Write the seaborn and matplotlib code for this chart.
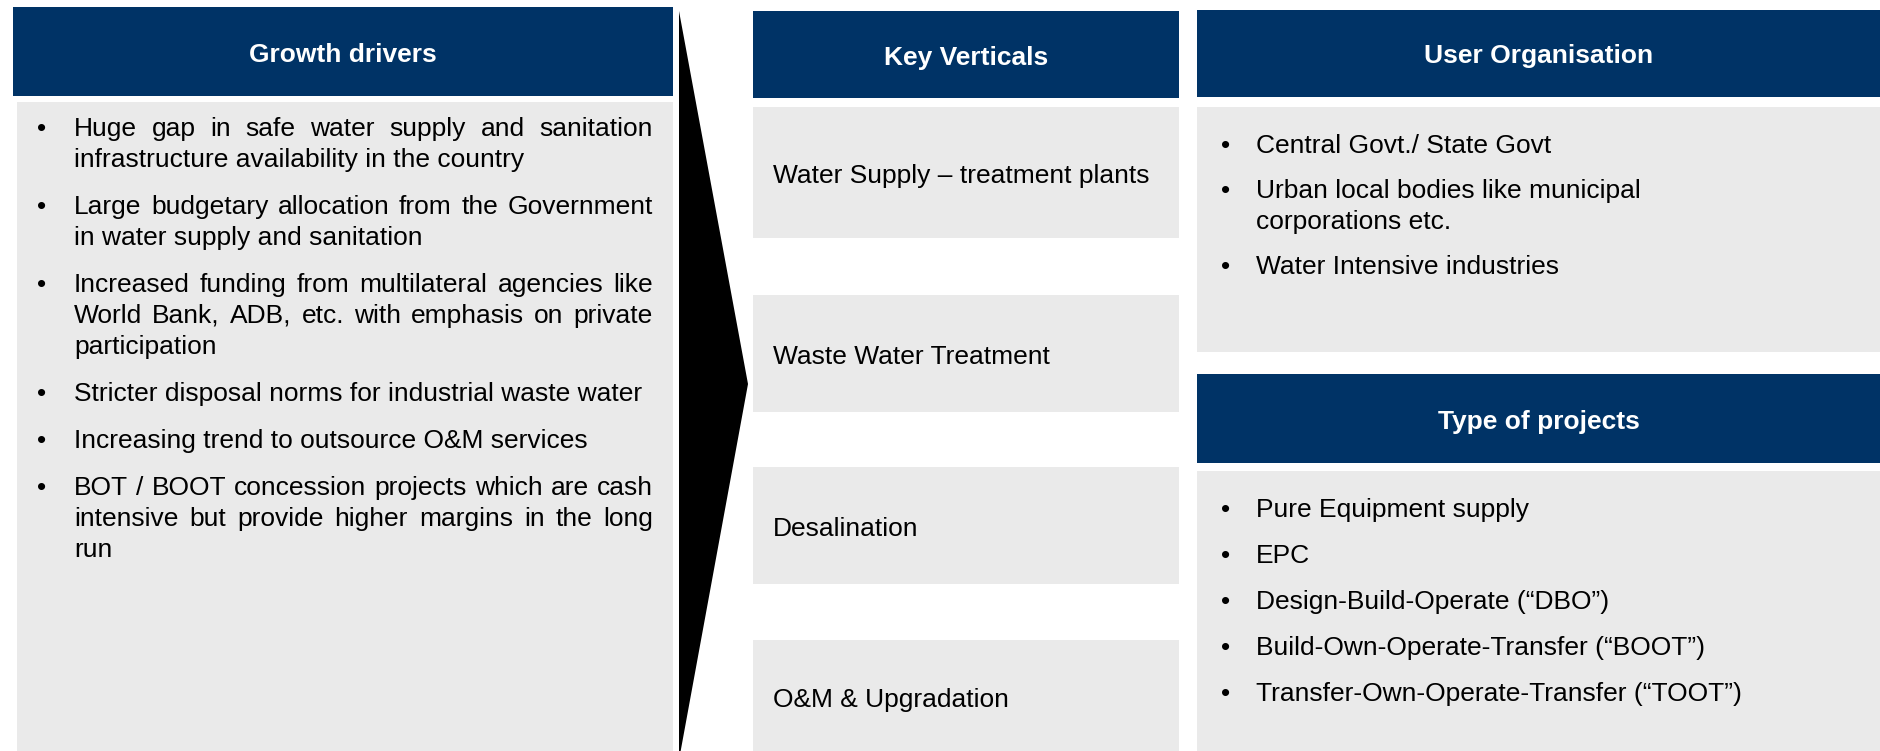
import matplotlib
matplotlib.use("Agg")
import matplotlib.pyplot as plt
import seaborn as sns
from matplotlib.patches import Rectangle, Polygon

# ---------------- content ----------------
growth_title = "Growth drivers"
growth_bullets = [
    ["Huge gap in safe water supply and sanitation",
     "infrastructure availability in the country"],
    ["Large budgetary allocation from the Government",
     "in water supply and sanitation"],
    ["Increased funding from multilateral agencies like",
     "World Bank, ADB, etc. with emphasis on private",
     "participation"],
    ["Stricter disposal norms for industrial waste water"],
    ["Increasing trend to outsource O&M services"],
    ["BOT / BOOT concession projects which are cash",
     "intensive but provide higher margins in the long",
     "run"],
]
verticals_title = "Key Verticals"
verticals = ["Water Supply \u2013 treatment plants", "Waste Water Treatment",
             "Desalination", "O&M & Upgradation"]
user_title = "User Organisation"
user_bullets = [["Central Govt./ State Govt"],
                ["Urban local bodies like municipal", "corporations etc."],
                ["Water Intensive industries"]]
projects_title = "Type of projects"
project_bullets = [["Pure Equipment supply"], ["EPC"],
                   ["Design-Build-Operate (\u201cDBO\u201d)"],
                   ["Build-Own-Operate-Transfer (\u201cBOOT\u201d)"],
                   ["Transfer-Own-Operate-Transfer (\u201cTOOT\u201d)"]]

# ---------------- style ----------------
sns.set_theme(style="white")
plt.rcParams['font.family'] = ['Liberation Sans', 'DejaVu Sans']
NAVY = "#003366"
GREY = "#EAEAEA"
FS = 19

W, H = 1881, 751
fig = plt.figure(figsize=(W / 100, H / 100), dpi=100)
ax = fig.add_axes([0, 0, 1, 1])
ax.set_xlim(0, W)
ax.set_ylim(H, 0)
ax.axis('off')
renderer = fig.canvas.get_renderer()


def box(x0, y0, x1, y1, color):
    ax.add_patch(Rectangle((x0, y0), x1 - x0, y1 - y0, facecolor=color,
                           edgecolor='none', zorder=1))


def header(x0, y0, x1, y1, title):
    box(x0, y0, x1, y1, NAVY)
    ax.text((x0 + x1) / 2, (y0 + y1) / 2 + 10, title, color='white',
            fontsize=FS, fontweight='bold', ha='center', va='baseline', zorder=3)


def justified(line, x0, x1, y):
    words = line.split(' ')
    texts = [ax.text(x0, y, w, fontsize=FS, color='black', va='baseline',
                     ha='left', zorder=3) for w in words]
    widths = [t.get_window_extent(renderer).width for t in texts]
    gap = (x1 - x0 - sum(widths)) / max(len(words) - 1, 1)
    x = x0
    for t, w in zip(texts, widths):
        t.set_x(x)
        x += w + gap


def bullets(items, xb, xt, y_start, pitch, gap, justify_right=None):
    y = y_start
    for item in items:
        ax.text(xb, y, "\u2022", fontsize=FS, color='black', va='baseline', zorder=3)
        for k, line in enumerate(item):
            last = k == len(item) - 1
            if justify_right is not None and not last:
                justified(line, xt, justify_right, y)
            else:
                ax.text(xt, y, line, fontsize=FS, color='black', va='baseline', zorder=3)
            if not last:
                y += pitch
        y += gap


# Growth drivers panel
header(13, 7, 673, 96, growth_title)
box(17, 102, 673, 760, GREY)
bullets(growth_bullets, 37, 74, 136, 31, 47, justify_right=653)

# Arrow
ax.add_patch(Polygon([(679, 11), (748, 384), (679, 760)], closed=True,
                     facecolor='black', edgecolor='none', zorder=2))

# Key verticals
header(753, 11, 1179, 98, verticals_title)
kv_boxes = [(107, 238), (295, 412), (467, 584), (640, 760)]
for (y0, y1), label in zip(kv_boxes, verticals):
    box(753, y0, 1179, y1, GREY)
    yc = (y0 + min(y1, 751)) / 2
    ax.text(773, yc + 11, label, fontsize=FS, color='black', va='baseline', zorder=3)

# User organisation
header(1197, 10, 1881, 97, user_title)
box(1197, 107, 1881, 352, GREY)
bullets(user_bullets, 1221, 1256, 153, 31, 45)

# Type of projects
header(1197, 374, 1881, 463, projects_title)
box(1197, 471, 1881, 760, GREY)
bullets(project_bullets, 1221, 1256, 517, 31, 46)

fig.savefig("out.png", dpi=100, facecolor='white')
